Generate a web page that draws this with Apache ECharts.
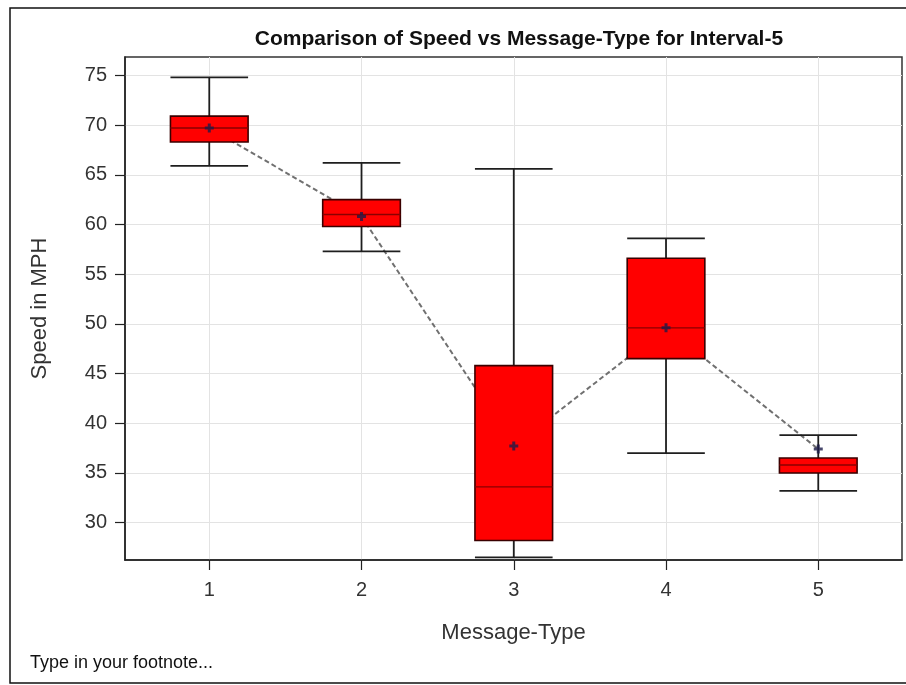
<!DOCTYPE html>
<html>
<head>
<meta charset="utf-8">
<script src="https://cdn.jsdelivr.net/npm/echarts@6/dist/echarts.min.js"></script>
<style>
  html, body { margin: 0; padding: 0; background: #fff; }
  #chart { width: 906px; height: 685px; }
</style>
</head>
<body>
<div id="chart"></div>
<script>
// Message types on the x axis
const messageTypes = [1, 2, 3, 4, 5];
// Box statistics per message type (MPH)
const whiskerLow  = [65.9, 57.3, 26.5, 37.0, 33.2];
const quartile1   = [68.3, 59.8, 28.2, 46.5, 35.0];
const medians     = [69.7, 61.0, 33.6, 49.6, 35.8];
const quartile3   = [70.9, 62.5, 45.8, 56.6, 36.5];
const whiskerHigh = [74.8, 66.2, 65.6, 58.6, 38.8];
const means       = [69.7, 60.8, 37.7, 49.6, 37.4];
// Tick labels on the speed axis
const speedTicks = [30, 35, 40, 45, 50, 55, 60, 65, 70, 75];

const FONT = 'Liberation Sans, Arial, sans-serif';

const boxData = messageTypes.map((t, i) =>
  [t, whiskerLow[i], quartile1[i], medians[i], quartile3[i], whiskerHigh[i]]);
const meanData = messageTypes.map((t, i) => [t, means[i]]);

const chart = echarts.init(document.getElementById('chart'), null, { renderer: 'canvas' });

function renderBox(params, api) {
  const x = api.value(0);
  const pLow = api.coord([x, api.value(1)]);
  const pQ1 = api.coord([x, api.value(2)]);
  const pMed = api.coord([x, api.value(3)]);
  const pQ3 = api.coord([x, api.value(4)]);
  const pHigh = api.coord([x, api.value(5)]);
  const w = api.size([0.51, 0])[0];
  const cx = pMed[0];
  const l = cx - w / 2, r = cx + w / 2;
  const whisker = { stroke: '#1e1e1e', lineWidth: 1.8 };
  return {
    type: 'group',
    children: [
      { type: 'line', shape: { x1: cx, y1: pHigh[1], x2: cx, y2: pQ3[1] }, style: whisker },
      { type: 'line', shape: { x1: cx, y1: pQ1[1], x2: cx, y2: pLow[1] }, style: whisker },
      { type: 'line', shape: { x1: l, y1: pHigh[1], x2: r, y2: pHigh[1] }, style: whisker },
      { type: 'line', shape: { x1: l, y1: pLow[1], x2: r, y2: pLow[1] }, style: whisker },
      { type: 'rect', shape: { x: l, y: pQ3[1], width: w, height: pQ1[1] - pQ3[1] },
        style: { fill: '#ff0000', stroke: '#3a0000', lineWidth: 1.6 } },
      { type: 'line', shape: { x1: l, y1: pMed[1], x2: r, y2: pMed[1] },
        style: { stroke: '#8a0000', lineWidth: 1.4 } }
    ]
  };
}

// light reference grid drawn at the labelled values
const gridLineStyle = { color: '#e3e3e3', width: 1, type: 'solid' };
const gridMarks = speedTicks.map(v => ({ yAxis: v }))
  .concat(messageTypes.map(v => ({ xAxis: v })));

chart.setOption({
  animation: false,
  backgroundColor: '#fff',
  title: [
    {
      text: 'Comparison of Speed vs Message-Type for Interval-5',
      left: 514, top: 24, textAlign: 'center',
      textStyle: { fontFamily: FONT, fontSize: 21, fontWeight: 'bold', color: '#111' }
    },
    {
      text: 'Type in your footnote...',
      left: 25, top: 649,
      textStyle: { fontFamily: FONT, fontSize: 18, fontWeight: 'normal', color: '#111' }
    }
  ],
  graphic: [
    { type: 'rect', shape: { x: 10, y: 8, width: 930, height: 675 },
      style: { fill: 'none', stroke: '#111', lineWidth: 1.5 }, silent: true, z: -10 }
  ],
  grid: {
    left: 125, top: 57, right: 4, bottom: 125,
    show: true, borderColor: '#333', borderWidth: 1.5, backgroundColor: 'transparent'
  },
  xAxis: {
    type: 'value',
    min: 0.4465, max: 5.55,
    name: 'Message-Type', nameLocation: 'middle', nameGap: 62,
    nameTextStyle: { fontFamily: FONT, fontSize: 22, color: '#333' },
    axisLine: { show: true, onZero: false, lineStyle: { color: '#222', width: 1.5 } },
    axisTick: { show: true, length: 10, customValues: messageTypes,
      lineStyle: { color: '#222', width: 1.2 } },
    axisLabel: { fontFamily: FONT, fontSize: 20, color: '#333', margin: 20,
      customValues: messageTypes },
    splitLine: { show: false }
  },
  yAxis: {
    type: 'value',
    min: 26.24, max: 76.85,
    name: 'Speed in MPH', nameLocation: 'middle', nameGap: 74, nameRotate: 90,
    nameTextStyle: { fontFamily: FONT, fontSize: 22, color: '#333' },
    axisLine: { show: true, lineStyle: { color: '#222', width: 1.5 } },
    axisTick: { show: true, length: 10, customValues: speedTicks,
      lineStyle: { color: '#222', width: 1.2 } },
    axisLabel: { fontFamily: FONT, fontSize: 20, color: '#333', margin: 18,
      customValues: speedTicks },
    splitLine: { show: false }
  },
  series: [
    {
      type: 'line', data: meanData, z: 1,
      showSymbol: false, symbol: 'none',
      lineStyle: { color: '#707070', width: 2, type: [5, 3] },
      markLine: {
        silent: true, symbol: 'none', animation: false, z: 0,
        label: { show: false },
        lineStyle: gridLineStyle,
        emphasis: { disabled: true },
        data: gridMarks
      }
    },
    {
      type: 'custom', data: boxData, z: 2,
      renderItem: renderBox,
      encode: { x: 0, y: [1, 2, 3, 4, 5] }
    },
    {
      type: 'scatter', data: meanData, z: 3,
      symbol: 'path://M2,0H4V2H6V4H4V6H2V4H0V2H2Z', symbolSize: 9,
      itemStyle: { color: '#1c1c48' }
    }
  ]
});
</script>
</body>
</html>
